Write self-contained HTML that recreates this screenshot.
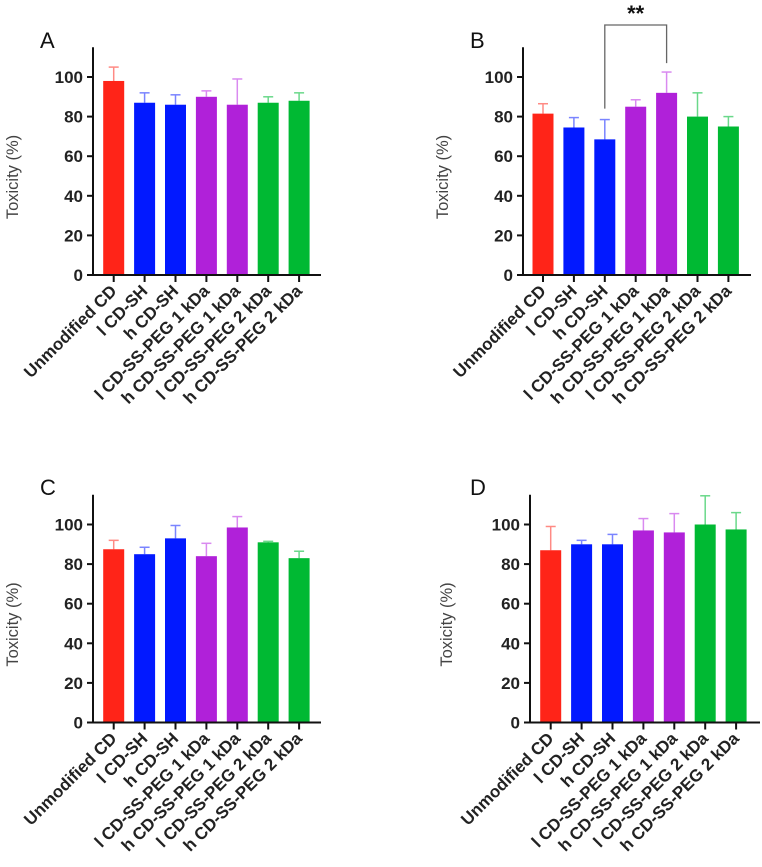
<!DOCTYPE html>
<html><head><meta charset="utf-8"><style>
body{margin:0;background:#fff;width:762px;height:867px;overflow:hidden}
svg{display:block}
text{font-family:"Liberation Sans",sans-serif}
</style></head><body>
<svg id="fig" width="762" height="867" viewBox="0 0 762 867"></svg>
<script>
const categories = ["Unmodified CD","l CD-SH","h CD-SH","l CD-SS-PEG 1 kDa","h CD-SS-PEG 1 kDa","l CD-SS-PEG 2 kDa","h CD-SS-PEG 2 kDa"];
const valuesA = [98,87,86,90,86,87,88];
const errorsA = [7,5,5,3,13,3,4];
const valuesB = [81.5,74.5,68.5,85,92,80,75];
const errorsB = [5,5,10,3.5,10.5,12,5];
const valuesC = [87.5,85,93,84,98.5,91,83];
const errorsC = [4.5,3.5,6.5,6.5,5.5,0.5,3.5];
const valuesD = [87,90,90,97,96,100,97.5];
const errorsD = [12,2,5,6,9.5,14.5,8.5];
const yTicks = [0,20,40,60,80,100];
const barColors = ["#ff2418","#0219ff","#0219ff","#b021d9","#b021d9","#00b933","#00b933"];
const errColors = ["#ff8a84","#7a84ff","#7a84ff","#d98af0","#d98af0","#6ad88a","#6ad88a"];

const NS="http://www.w3.org/2000/svg";
const svg=document.getElementById('fig');
function mk(tag,attrs,parent){const e=document.createElementNS(NS,tag);for(const k in attrs)e.setAttribute(k,attrs[k]);(parent||svg).appendChild(e);return e;}

const panels=[
 {id:'a',letter:'A',lx:40,ly:48,ax:93,zero:275,first:113.7,end:321,titleX:18,vals:valuesA,errs:errorsA},
 {id:'b',letter:'B',lx:470,ly:48,ax:523,zero:275,first:543,end:751,titleX:448,vals:valuesB,errs:errorsB},
 {id:'c',letter:'C',lx:40,ly:495,ax:93,zero:722.5,first:113.7,end:321,titleX:18,vals:valuesC,errs:errorsC},
 {id:'d',letter:'D',lx:470,ly:495,ax:530,zero:722.5,first:550.7,end:760,titleX:452,vals:valuesD,errs:errorsD}
];
const pxPerUnit=1.98, step=30.9, barW=21;

panels.forEach(p=>{
  const g=mk('g',{});
  
  
  const y=v=>p.zero-v*pxPerUnit;
  const x=i=>p.first+i*step;
  const L=mk('text',{x:p.lx,y:p.ly,'font-size':22,fill:'#111'},g);L.textContent=p.letter;
  
  
  const t=mk('text',{x:p.titleX,y:p.zero-98,'font-size':16.5,fill:'#444','text-anchor':'middle',transform:`rotate(-90 ${p.titleX} ${p.zero-98})`},g);
  t.textContent='Toxicity (%)';
  
  
  p.vals.forEach((v,i)=>{
    const cx=x(i), e=p.errs[i];
    const ln=mk('line',{x1:cx,x2:cx,y1:y(v),y2:y(v+e),stroke:errColors[i],'stroke-width':1.5},g);
    
    
    mk('line',{x1:cx-5,x2:cx+5,y1:y(v+e),y2:y(v+e),stroke:errColors[i],'stroke-width':1.5},g);
    const r=mk('rect',{x:cx-barW/2,y:y(v),width:barW,height:v*pxPerUnit,fill:barColors[i]},g);
    
    
    mk('line',{x1:cx,x2:cx,y1:p.zero,y2:p.zero+7,stroke:'#111','stroke-width':2},g);
    const lb=mk('text',{x:cx+4,y:p.zero+17,'font-size':17,'font-weight':'bold',fill:'#222','text-anchor':'end',transform:`rotate(-45 ${cx+4} ${p.zero+17})`},g);
    lb.textContent=categories[i];
    
    
  });
  const ya=mk('line',{x1:p.ax,x2:p.ax,y1:y(115),y2:p.zero,stroke:'#111','stroke-width':2},g);
  
  
  const xa=mk('line',{x1:p.ax-6,x2:p.end,y1:p.zero,y2:p.zero,stroke:'#111','stroke-width':2},g);
  
  
  yTicks.forEach(v=>{
    mk('line',{x1:p.ax-6,x2:p.ax,y1:y(v),y2:y(v),stroke:'#111','stroke-width':2},g);
    const tl=mk('text',{x:p.ax-10,y:y(v)+6,'font-size':17,'font-weight':'bold',fill:'#222','text-anchor':'end'},g);
    tl.textContent=v;
    
    
  });
});
const b=panels[1], yb=v=>b.zero-v*pxPerUnit, xb=i=>b.first+i*step;
const br=mk('path',{d:`M${xb(2)},${yb(84)} V25 H${xb(4)} V${yb(107)}`,fill:'none',stroke:'#666','stroke-width':1.3});


const st=mk('text',{x:(xb(2)+xb(4))/2,y:21,'font-size':22,'font-weight':'bold',fill:'#111','text-anchor':'middle'});
st.textContent='**';


</script>
</body></html>
